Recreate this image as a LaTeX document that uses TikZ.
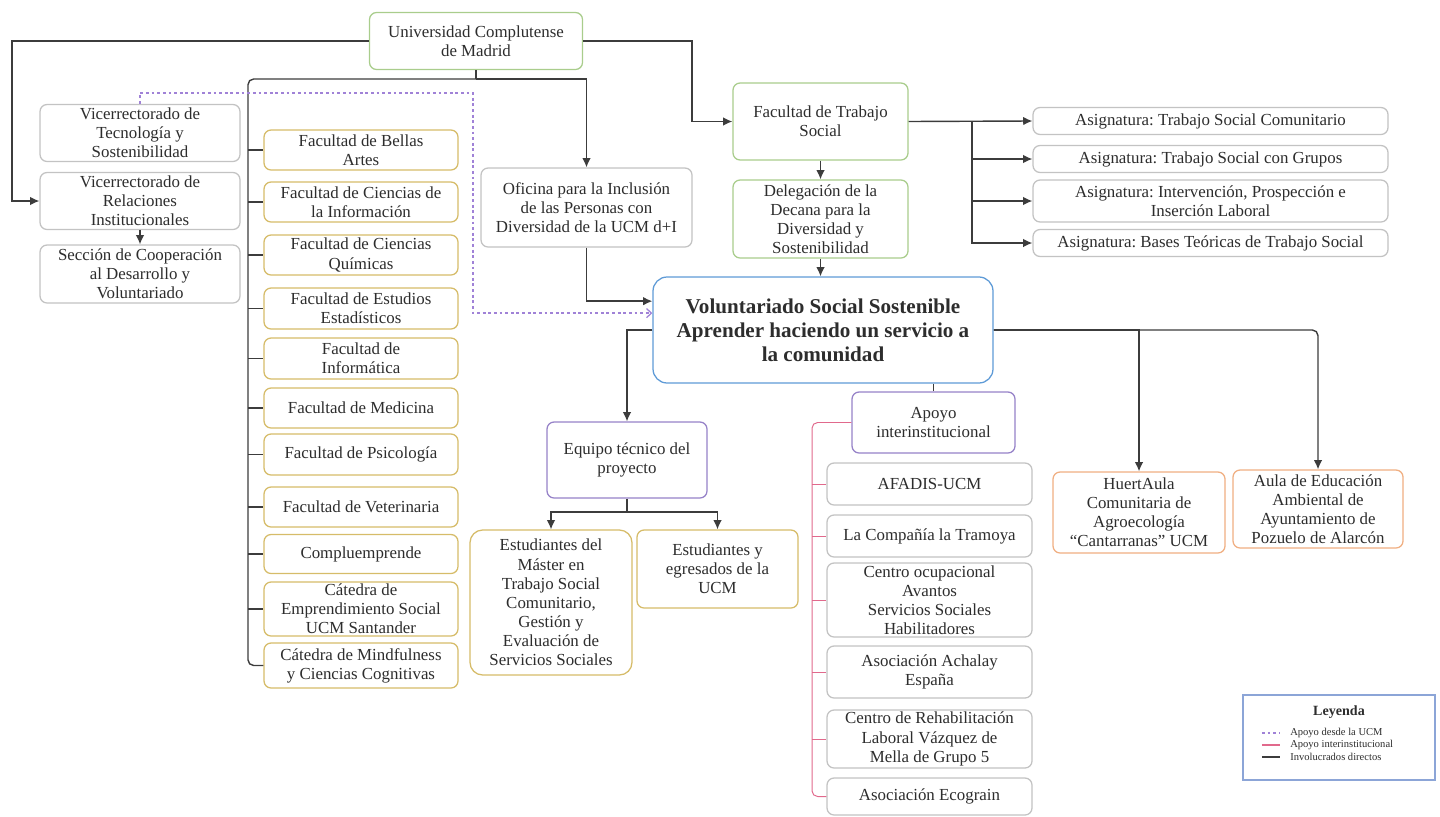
\documentclass[tikz,border=0pt]{standalone}
\usepackage{fontspec}
\setmainfont{Liberation Serif}
\usetikzlibrary{arrows.meta}

\definecolor{tinta}{RGB}{60,60,60}
\definecolor{texto}{RGB}{45,45,45}
\definecolor{verde}{RGB}{169,205,140}
\definecolor{dorado}{RGB}{214,188,105}
\definecolor{gris}{RGB}{195,195,195}
\definecolor{morado}{RGB}{150,130,200}
\definecolor{azul}{RGB}{95,155,215}
\definecolor{naranja}{RGB}{240,175,130}
\definecolor{rosa}{RGB}{225,105,140}
\definecolor{lila}{RGB}{160,130,215}
\definecolor{leyborde}{RGB}{140,165,215}

\begin{document}
\frenchspacing
\begin{tikzpicture}[x=0.025cm,y=-0.025cm,
    font=\fontsize{12}{13.6}\selectfont, text=texto,
    caja/.style={draw, rounded corners=5pt, align=center, inner sep=0.5pt, line width=0.9pt, fill=white},
    tam/.style 2 args={minimum width=#1*0.025cm, minimum height=#2*0.025cm},
    cverde/.style={caja, draw=verde},
    cdorada/.style={caja, draw=dorado},
    cgris/.style={caja, draw=gris},
    cmorada/.style={caja, draw=morado},
    cnaranja/.style={caja, draw=naranja},
    linea/.style={draw=tinta, line width=1pt},
    flecha/.style={linea, -{Latex[length=6.5pt,width=6pt]}},
    rosalinea/.style={draw=rosa, line width=0.7pt},
    guion/.style={draw=lila, line width=0.9pt, dash pattern=on 2pt off 2pt, -{Straight Barb[length=3.5pt,width=6.5pt]}},
  ]
  \useasboundingbox (0,0) rectangle (1440,816);

  % cabecera
  \node[cverde, tam={213}{57}] (ucm) at (476,41) {Universidad Complutense\\de Madrid};

  % vicerrectorados
  \node[cgris, tam={200}{57}] (vtec)    at (140,133) {Vicerrectorado de\\Tecnología y\\Sostenibilidad};
  \node[cgris, tam={200}{57}] (vrel)    at (140,201) {Vicerrectorado de\\Relaciones\\Institucionales};
  \node[cgris, tam={200}{58}] (seccoop) at (140,274) {Sección de Cooperación\\al Desarrollo y\\Voluntariado};

  % facultades
  \node[cdorada, tam={194}{40}] (bellas)  at (361,150)   {Facultad de Bellas\\Artes};
  \node[cdorada, tam={194}{40}] (cinfo)   at (361,202)   {Facultad de Ciencias de\\la Información};
  \node[cdorada, tam={194}{40}] (cquim)   at (361,255)   {Facultad de Ciencias\\Químicas};
  \node[cdorada, tam={194}{41}] (estad)   at (361,308.5) {Facultad de Estudios\\Estadísticos};
  \node[cdorada, tam={194}{41}] (inform)  at (361,358.5) {Facultad de\\Informática};
  \node[cdorada, tam={194}{40}] (medic)   at (361,408)   {Facultad de Medicina};
  \node[cdorada, tam={194}{41}] (psico)   at (361,454.5) {Facultad de Psicología};
  \node[cdorada, tam={194}{40}] (veter)   at (361,507)   {Facultad de Veterinaria};
  \node[cdorada, tam={194}{39}] (complu)  at (361,554)   {Compluemprende};
  \node[cdorada, tam={194}{54}] (catemp)  at (361,609)   {Cátedra de\\Emprendimiento Social\\UCM Santander};
  \node[cdorada, tam={194}{45}] (catmind) at (361,665.5) {Cátedra de Mindfulness\\y Ciencias Cognitivas};

  \node[cgris, tam={211}{79}] (oficina) at (586.5,207.5) {Oficina para la Inclusión\\de las Personas con\\Diversidad de la UCM d+I};

  % trabajo social
  \node[cverde, tam={175}{77}] (fts)   at (820.5,121.5) {Facultad de Trabajo\\Social};
  \node[cverde, tam={175}{78}] (deleg) at (820.5,219)   {Delegación de la\\Decana para la\\Diversidad y\\Sostenibilidad};

  \node[cgris, tam={355}{27}] (a1) at (1210.5,121) {Asignatura: Trabajo Social Comunitario};
  \node[cgris, tam={355}{27}] (a2) at (1210.5,159) {Asignatura: Trabajo Social con Grupos};
  \node[cgris, tam={355}{42}] (a3) at (1210.5,201) {Asignatura: Intervención, Prospección e\\Inserción Laboral};
  \node[cgris, tam={355}{27}] (a4) at (1210.5,243) {Asignatura: Bases Teóricas de Trabajo Social};

  % proyecto
  \node[caja, draw=azul, rounded corners=10pt, tam={340}{106}, font=\bfseries\fontsize{15}{17}\selectfont]
    (vol) at (823,330) {Voluntariado Social Sostenible\\Aprender haciendo un servicio a\\la comunidad};

  \node[cmorada, tam={160}{76}] (equipo) at (627,460) {Equipo técnico del\\proyecto};
  \node[cdorada, rounded corners=9pt, tam={162}{145}] (master) at (551,602.5) {Estudiantes del\\Máster en\\Trabajo Social\\Comunitario,\\Gestión y\\Evaluación de\\Servicios Sociales};
  \node[cdorada, tam={161}{78}] (egres) at (717.5,569) {Estudiantes y\\egresados de la\\UCM};

  \node[cmorada, tam={163}{61}] (apoyo) at (933.5,422.5) {Apoyo\\interinstitucional};
  \node[cgris, tam={205}{42}] (afadis)   at (929.5,484) {AFADIS-UCM};
  \node[cgris, tam={205}{42}] (tramoya)  at (929.5,536) {La Compañía la Tramoya};
  \node[cgris, tam={205}{74}] (centro)   at (929.5,600) {Centro ocupacional\\Avantos\\Servicios Sociales\\Habilitadores};
  \node[cgris, tam={205}{52}] (achalay)  at (929.5,672) {Asociación Achalay\\España};
  \node[cgris, tam={205}{58}] (rehab)    at (929.5,739) {Centro de Rehabilitación\\Laboral Vázquez de\\Mella de Grupo 5};
  \node[cgris, tam={205}{37}] (ecograin) at (929.5,796.5) {Asociación Ecograin};

  \node[cnaranja, tam={172}{81}] (huert) at (1139,512.5) {HuertAula\\Comunitaria de\\Agroecología\\“Cantarranas” UCM};
  \node[cnaranja, tam={170}{78}] (aula)  at (1318,509)   {Aula de Educación\\Ambiental de\\Ayuntamiento de\\Pozuelo de Alarcón};

  % conexiones desde la UCM
  \coordinate (uj) at (476,79);
  \coordinate (ft) at (248,79);
  \coordinate (lx) at (12,41);
  \coordinate (rx) at (692,41);
  \coordinate (dt) at (473,93);
  \draw[linea] (ucm.south) -- (uj);
  \draw[flecha] (uj) -| (oficina.north);
  \draw[linea, rounded corners=4pt] (uj) -- (ft) |- (catmind.west);
  \foreach \f in {bellas,cinfo,cquim,estad,inform,medic,psico,veter,complu,catemp}
    \draw[linea] (ft |- \f.west) -- (\f.west);
  \draw[flecha] (ucm.west) -- (lx) |- (vrel.west);
  \draw[flecha] (vrel) -- (seccoop);
  \draw[guion] (vtec.north) |- (dt) |- ([yshift=12pt]vol.west);
  \draw[flecha] (oficina.south) |- ([yshift=20.5pt]vol.west);
  \draw[flecha] (ucm.east) -- (rx) |- (fts.west);
  \draw[flecha] (fts) -- (deleg);
  \draw[flecha] (deleg.south) -- (deleg.south |- vol.north);

  % asignaturas
  \coordinate (ax) at (972,121.5);
  \draw[flecha] (fts.east) -- (a1.west);
  \foreach \a in {a2,a3,a4}
    \draw[flecha] (ax) |- (\a.west);

  % equipo
  \coordinate (ej) at (627,512);
  \draw[flecha] (vol.west) -| (equipo.north);
  \draw[linea] (equipo.south) -- (ej);
  \draw[flecha] (ej) -| (master.north);
  \draw[flecha] (ej) -| (egres.north);

  % apoyo interinstitucional
  \coordinate (px) at (812,422.5);
  \draw[linea] (apoyo.north |- vol.south) -- (apoyo.north);
  \draw[rosalinea, rounded corners=4pt] (apoyo.west) -- (px) |- (ecograin.west);
  \foreach \o in {afadis,tramoya,centro,achalay,rehab}
    \draw[rosalinea] (px |- \o.west) -- (\o.west);

  \draw[flecha] (vol.east) -| (huert.north);
  \draw[flecha, rounded corners=4pt] (vol.east) -| (aula.north);

  % leyenda
  \node[draw=leyborde, line width=0.9pt, tam={192}{85}] (ley) at (1339,737.5) {};
  \node[font=\bfseries\fontsize{10}{11}\selectfont] (leytit) at (1339,712) {Leyenda};
  \node[anchor=west, inner sep=0pt, font=\fontsize{7.5}{8}\selectfont] (ley1) at (1290,733) {Apoyo desde la UCM};
  \node[anchor=west, inner sep=0pt, font=\fontsize{7.5}{8}\selectfont] (ley2) at (1290,745) {Apoyo interinstitucional};
  \node[anchor=west, inner sep=0pt, font=\fontsize{7.5}{8}\selectfont] (ley3) at (1290,757) {Involucrados directos};
  \draw[draw=lila, line width=0.9pt, dash pattern=on 2pt off 2pt] ([xshift=-20pt]ley1.west) -- ([xshift=-7pt]ley1.west);
  \draw[rosalinea, line width=1pt] ([xshift=-20pt]ley2.west) -- ([xshift=-7pt]ley2.west);
  \draw[linea, line width=1.3pt] ([xshift=-20pt]ley3.west) -- ([xshift=-7pt]ley3.west);
\end{tikzpicture}
\end{document}
